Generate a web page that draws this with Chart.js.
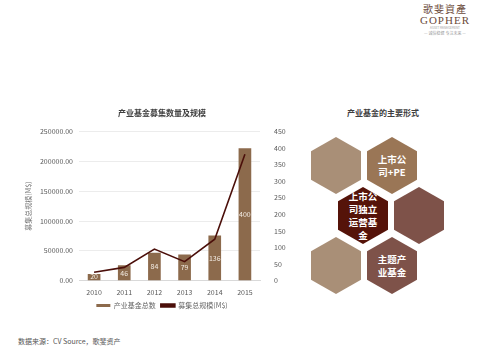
<!DOCTYPE html>
<html>
<head>
<meta charset="utf-8">
<script src="https://cdn.jsdelivr.net/npm/chart.js@4"></script>
<style>
  body{margin:0;width:480px;height:360px;background:#fff;position:relative;overflow:hidden;font-family:"Noto Sans CJK SC","Noto Sans",sans-serif;}
  #wrap{position:absolute;left:0;top:100px;width:300px;height:225px;}
  .hex{position:absolute;width:50px;height:57px;clip-path:polygon(50% 0,100% 25%,100% 75%,50% 100%,0 75%,0 25%);
       display:flex;align-items:center;justify-content:center;text-align:center;color:#fff;font-weight:bold;font-size:9.5px;line-height:13px;}
  .title2{position:absolute;left:300px;width:166px;top:107px;text-align:center;font-size:8px;font-weight:bold;color:#404040;}
  .src{position:absolute;left:18px;top:336px;font-size:7px;color:#555;}
  .logo{position:absolute;left:412px;top:3px;width:66px;text-align:center;color:#6b4a3a;}
</style>
</head>
<body>
<div class="logo">
  <div style="font-size:10px;line-height:12px;letter-spacing:1px;">歌斐資產</div>
  <div style="font-size:11px;line-height:11px;font-family:'Liberation Serif',serif;letter-spacing:1px;">GOPHER</div>
  <div style="font-size:3px;line-height:5px;color:#999;">ASSET MANAGEMENT</div>
  <div style="font-size:4px;line-height:5px;color:#999;">— 诚信稳健 专注未来 —</div>
</div>
<div id="wrap"><canvas id="c"></canvas></div>
<div class="title2">产业基金的主要形式</div>
<div class="hex" style="left:311px;top:137px;background:#a98f77;"></div>
<div class="hex" style="left:367px;top:137px;background:#9a7656;">上市公<br>司+PE</div>
<div class="hex" style="left:338px;top:187px;background:#551309;">上市公<br>司独立<br>运营基<br>金</div>
<div class="hex" style="left:394px;top:187px;background:#7e5249;"></div>
<div class="hex" style="left:311px;top:237px;background:#a98f77;"></div>
<div class="hex" style="left:367px;top:237px;background:#7e5249;">主题产<br>业基金</div>
<div class="src">数据来源：CV Source，歌斐资产</div>
<script>
const years=['2010','2011','2012','2013','2014','2015'];
const fundCount=[20,46,84,79,136,400];
const fundSize=[13900,22200,52800,31700,69400,212000];

const barLabels={
  id:'barLabels',
  afterDatasetsDraw(chart){
    const ctx=chart.ctx, meta=chart.getDatasetMeta(0);
    ctx.save();
    ctx.font='7px "Noto Sans CJK SC"';
    ctx.fillStyle='#f3ece4';
    ctx.textAlign='center'; ctx.textBaseline='middle';
    meta.data.forEach((b,i)=>ctx.fillText(fundCount[i], b.x, Math.min((b.y+b.base)/2, b.base-4)));
    ctx.restore();
  }
};

const tickFont={size:7,family:'"Noto Sans CJK SC"'};
new Chart(document.getElementById('c'),{
  data:{labels:years,datasets:[
    {type:'bar',label:'产业基金总数',data:fundCount,yAxisID:'y1',backgroundColor:'#8c6a4c',order:2,
     categoryPercentage:1,barPercentage:0.42},
    {type:'line',label:'募集总规模(M$)',data:fundSize,yAxisID:'y',borderColor:'#4b0f0a',backgroundColor:'#4b0f0a',
     borderWidth:1.6,pointRadius:0,tension:0,order:1}
  ]},
  options:{
    responsive:true,maintainAspectRatio:false,animation:false,
    layout:{padding:{left:24,right:0,top:0,bottom:6}},
    plugins:{
      title:{display:true,text:'产业基金募集数量及规模',color:'#404040',font:{size:8,weight:'bold',family:'"Noto Sans CJK SC"'},padding:{top:8,bottom:14}},
      legend:{position:'bottom',labels:{boxWidth:14,boxHeight:3,color:'#666',font:tickFont,padding:5,sort:(a,b)=>a.datasetIndex-b.datasetIndex}},
      tooltip:{enabled:false}
    },
    scales:{
      x:{grid:{display:false},border:{color:'#d9d9d9'},ticks:{color:'#595959',font:tickFont,padding:0}},
      y:{position:'left',min:0,max:250000,afterFit:s=>{s.width=55;},
         ticks:{stepSize:50000,color:'#595959',font:tickFont,padding:6,callback:v=>v.toFixed(2)},
         grid:{color:'#ececec',drawTicks:false},border:{display:false},
         title:{display:true,text:'募集总规模(M$)',color:'#777',font:tickFont,padding:0}},
      y1:{position:'right',min:0,max:450,afterFit:s=>{s.width=40;},
         ticks:{stepSize:50,color:'#595959',font:tickFont,padding:6},
         grid:{display:false},border:{display:false}}
    }
  },
  plugins:[barLabels]
});
</script>
</body>
</html>
